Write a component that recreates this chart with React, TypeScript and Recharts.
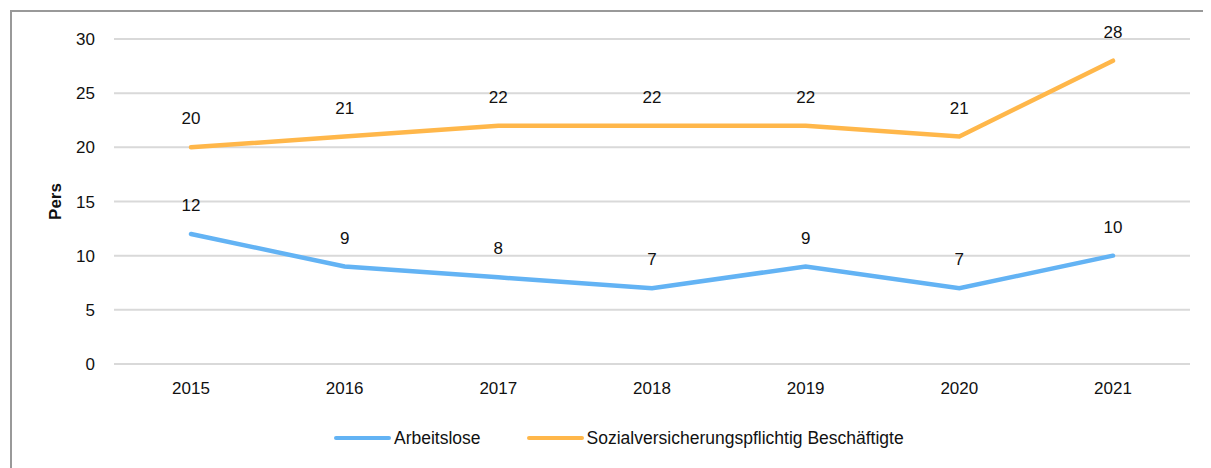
import React from 'react';
import {
  LineChart,
  Line,
  XAxis,
  YAxis,
  CartesianGrid,
  Legend,
  LabelList,
} from 'recharts';

const years = ['2015', '2016', '2017', '2018', '2019', '2020', '2021'];
const arbeitslose = [12, 9, 8, 7, 9, 7, 10];
const beschaeftigte = [20, 21, 22, 22, 22, 21, 28];
const yTicks = [0, 5, 10, 15, 20, 25, 30];

const BLUE = '#63B3F4';
const ORANGE = '#FFB74A';
const FONT = '"Liberation Sans", Arial, sans-serif';

const data = years.map((year, i) => ({
  year,
  arbeitslose: arbeitslose[i],
  beschaeftigte: beschaeftigte[i],
}));

function LegendContent({ payload }: { payload?: Array<{ value: string; color: string }> }) {
  if (!payload) return null;
  return (
    <div style={{ display: 'flex', alignItems: 'center', height: 20, fontFamily: FONT, fontSize: 17.5, color: '#111' }}>
      {payload.map((p, i) => (
        <div key={p.value} style={{ display: 'flex', alignItems: 'center', marginLeft: i === 0 ? 0 : 46 }}>
          <span
            style={{
              display: 'inline-block',
              width: 57,
              height: 4,
              borderRadius: 2,
              background: p.color,
              marginRight: 3,
            }}
          />
          <span>{p.value}</span>
        </div>
      ))}
    </div>
  );
}

export default function App() {
  return (
    <div style={{ position: 'relative', width: 1203, height: 460, overflow: 'hidden', fontFamily: FONT }}>
      <div
        style={{
          position: 'absolute',
          left: 2,
          top: 2,
          width: 1300,
          height: 600,
          borderLeft: '2px solid #999',
          borderTop: '2px solid #999',
        }}
      />
      <div style={{ position: 'absolute', left: 0, top: 0 }}>
        <LineChart width={1203} height={460} data={data} margin={{ top: 31, right: 21, left: 0, bottom: 54 }}>
          <CartesianGrid vertical={false} stroke="#d9d9d9" strokeWidth={2} />
          <XAxis
            dataKey="year"
            axisLine={false}
            tickLine={false}
            tickSize={0}
            tickMargin={18}
            padding={{ left: 77, right: 77 }}
            tick={{ fill: '#111', fontSize: 17, fontFamily: FONT }}
            height={30}
          />
          <YAxis
            domain={[0, 30]}
            ticks={yTicks}
            axisLine={false}
            tickLine={false}
            tickSize={0}
            tickMargin={19}
            width={106}
            tick={{ fill: '#111', fontSize: 17, fontFamily: FONT }}
            label={{
              value: 'Pers',
              angle: -90,
              position: 'insideLeft',
              offset: 47,
              style: { textAnchor: 'middle', fontWeight: 'bold', fontSize: 17, fill: '#111', fontFamily: FONT },
            }}
          />
          <Legend
            content={<LegendContent />}
            wrapperStyle={{ position: 'absolute', left: 326, top: 420, width: 'auto' }}
          />
          <Line
            type="linear"
            dataKey="arbeitslose"
            name="Arbeitslose"
            stroke={BLUE}
            strokeWidth={4.5}
            strokeLinecap="round"
            dot={false}
            activeDot={false}
            isAnimationActive={false}
          >
            <LabelList dataKey="arbeitslose" position="top" offset={23} fill="#111" fontSize={17} fontFamily={FONT} />
          </Line>
          <Line
            type="linear"
            dataKey="beschaeftigte"
            name="Sozialversicherungspflichtig Beschäftigte"
            stroke={ORANGE}
            strokeWidth={4.5}
            strokeLinecap="round"
            dot={false}
            activeDot={false}
            isAnimationActive={false}
          >
            <LabelList dataKey="beschaeftigte" position="top" offset={23} fill="#111" fontSize={17} fontFamily={FONT} />
          </Line>
        </LineChart>
      </div>
    </div>
  );
}
